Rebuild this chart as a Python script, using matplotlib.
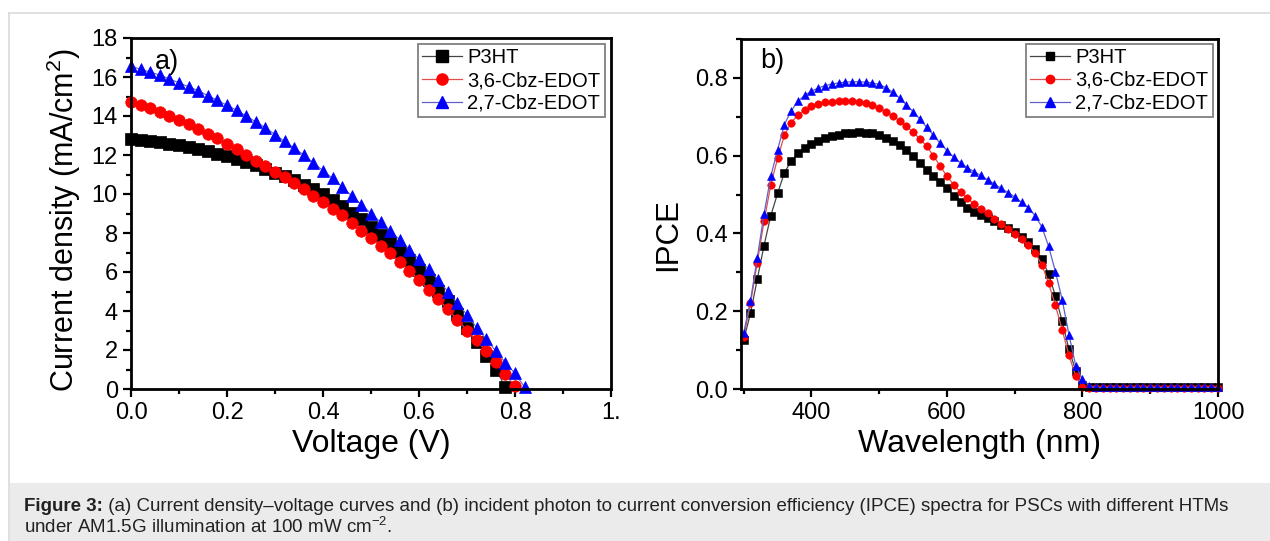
import matplotlib
matplotlib.use("Agg")
import matplotlib.pyplot as plt
from matplotlib.ticker import MultipleLocator, FixedLocator, FixedFormatter
from matplotlib.patches import Rectangle
from matplotlib.lines import Line2D

plt.rcParams['font.family'] = ['Liberation Sans', 'DejaVu Sans']
plt.rcParams['mathtext.fontset'] = 'custom'
plt.rcParams['mathtext.rm'] = 'Liberation Sans'
plt.rcParams['mathtext.it'] = 'Liberation Sans:italic'
plt.rcParams['mathtext.bf'] = 'Liberation Sans:bold'

# ---------------- data ----------------
series_names = ["P3HT", "3,6-Cbz-EDOT", "2,7-Cbz-EDOT"]

voltage = [0.00, 0.02, 0.04, 0.06, 0.08, 0.10, 0.12, 0.14, 0.16, 0.18,
           0.20, 0.22, 0.24, 0.26, 0.28, 0.30, 0.32, 0.34, 0.36, 0.38,
           0.40, 0.42, 0.44, 0.46, 0.48, 0.50, 0.52, 0.54, 0.56, 0.58,
           0.60, 0.62, 0.64, 0.66, 0.68, 0.70, 0.72, 0.74, 0.76, 0.78,
           0.80, 0.82]

j_p3ht = [12.8, 12.75, 12.7, 12.65, 12.55, 12.5, 12.4, 12.3, 12.2, 12.05,
          11.95, 11.8, 11.65, 11.5, 11.3, 11.1, 10.9, 10.7, 10.45, 10.25,
          10.0, 9.7, 9.4, 9.05, 8.7, 8.3, 7.9, 7.5, 7.05, 6.6,
          6.1, 5.6, 5.05, 4.5, 3.85, 3.15, 2.4, 1.7, 1.0, 0.1]
j_36 = [14.7, 14.55, 14.4, 14.2, 14.0, 13.8, 13.6, 13.35, 13.1, 12.85,
        12.55, 12.3, 12.0, 11.7, 11.45, 11.15, 10.85, 10.55, 10.25, 9.9,
        9.6, 9.25, 8.9, 8.5, 8.1, 7.75, 7.35, 6.95, 6.5, 6.05,
        5.6, 5.1, 4.6, 4.1, 3.55, 3.0, 2.5, 1.95, 1.4, 0.75, 0.15]
j_27 = [16.55, 16.4, 16.25, 16.1, 15.9, 15.7, 15.5, 15.3, 15.05, 14.8,
        14.55, 14.3, 14.0, 13.7, 13.4, 13.05, 12.7, 12.35, 12.0, 11.6,
        11.2, 10.8, 10.35, 9.9, 9.45, 9.0, 8.55, 8.1, 7.65, 7.15,
        6.65, 6.15, 5.6, 5.0, 4.4, 3.8, 3.15, 2.55, 1.95, 1.35, 0.8, 0.1]

wavelength = list(range(300, 1001, 10))

ipce_p3ht = [0.126, 0.195, 0.282, 0.369, 0.446, 0.503, 0.556, 0.586, 0.606, 0.620,
             0.630, 0.638, 0.645, 0.650, 0.654, 0.657, 0.659, 0.660, 0.659, 0.657,
             0.653, 0.646, 0.638, 0.627, 0.614, 0.598, 0.580, 0.563, 0.547, 0.531,
             0.516, 0.497, 0.480, 0.466, 0.455, 0.447, 0.440, 0.432, 0.423, 0.413,
             0.403, 0.392, 0.378, 0.360, 0.335, 0.295, 0.240, 0.174, 0.102, 0.047,
             0.010, 0.004, 0.004, 0.004, 0.004, 0.004, 0.004, 0.004, 0.004, 0.004,
             0.004, 0.004, 0.004, 0.004, 0.004, 0.004, 0.004, 0.004, 0.004, 0.004,
             0.004]
ipce_36 = [0.135, 0.220, 0.325, 0.431, 0.525, 0.593, 0.652, 0.685, 0.705, 0.718,
           0.727, 0.733, 0.737, 0.739, 0.740, 0.740, 0.740, 0.738, 0.735, 0.730,
           0.722, 0.713, 0.703, 0.690, 0.676, 0.660, 0.643, 0.624, 0.600, 0.573,
           0.547, 0.525, 0.506, 0.490, 0.476, 0.464, 0.452, 0.438, 0.425, 0.412,
           0.398, 0.385, 0.370, 0.350, 0.320, 0.272, 0.215, 0.152, 0.087, 0.033,
           0.006, 0.003, 0.003, 0.003, 0.003, 0.003, 0.003, 0.003, 0.003, 0.003,
           0.003, 0.003, 0.003, 0.003, 0.003, 0.003, 0.003, 0.003, 0.003, 0.003,
           0.003]
ipce_27 = [0.145, 0.227, 0.337, 0.450, 0.547, 0.615, 0.680, 0.715, 0.740, 0.755,
           0.766, 0.774, 0.780, 0.784, 0.787, 0.789, 0.790, 0.790, 0.789, 0.787,
           0.783, 0.775, 0.763, 0.748, 0.731, 0.713, 0.694, 0.673, 0.652, 0.632,
           0.613, 0.596, 0.581, 0.569, 0.559, 0.549, 0.538, 0.527, 0.516, 0.505,
           0.494, 0.480, 0.466, 0.446, 0.417, 0.367, 0.302, 0.230, 0.140, 0.060,
           0.025, 0.008, 0.004, 0.004, 0.004, 0.004, 0.004, 0.004, 0.004, 0.004,
           0.004, 0.004, 0.004, 0.004, 0.004, 0.004, 0.004, 0.004, 0.004, 0.004,
           0.004]

xticks_a = [0.0, 0.2, 0.4, 0.6, 0.8, 1.0]
xticklabels_a = ["0.0", "0.2", "0.4", "0.6", "0.8", "1."]
yticks_a = [0, 2, 4, 6, 8, 10, 12, 14, 16, 18]
xticks_b = [400, 600, 800, 1000]
yticks_b = [0.0, 0.2, 0.4, 0.6, 0.8]
yticklabels_b = ["0.0", "0.2", "0.4", "0.6", "0.8"]
caption_bold = "Figure 3:"
caption_rest = (" (a) Current density\u2013voltage curves and (b) incident photon to current "
                "conversion efficiency (IPCE) spectra for PSCs with different HTMs")
caption_line2 = "under AM1.5G illumination at 100 mW cm$^{\u22122}$."

# ---------------- style ----------------
W, H = 1270, 541
fig = plt.figure(figsize=(W / 100, H / 100), dpi=100)
fig.patch.set_facecolor("white")

# outer light border and caption box
fig.add_artist(Line2D([9 / W, 1], [1 - 13 / H, 1 - 13 / H], transform=fig.transFigure,
                      color="#dadada", lw=1.2))
fig.add_artist(Line2D([9 / W, 9 / W], [0, 1 - 13 / H], transform=fig.transFigure,
                      color="#dadada", lw=1.2))
fig.add_artist(Rectangle((10 / W, 0), 1 - 10 / W, (H - 483) / H, transform=fig.transFigure,
                         facecolor="#ebebeb", edgecolor="none"))

colors = ["#000000", "#ff0000", "#0000ff"]
line_colors = ["#444444", "#e05050", "#6060c8"]
markers = ["s", "o", "^"]


def px_axes(l, t, r, b):
    return fig.add_axes([l / W, 1 - b / H, (r - l) / W, (b - t) / H])


def style_axes(ax):
    for s in ax.spines.values():
        s.set_linewidth(2.0)
    ax.tick_params(axis="both", which="both", direction="out", top=False, right=False,
                   labelsize=17, width=1.6, colors="black")
    ax.tick_params(which="major", length=5.5, pad=4)
    ax.tick_params(which="minor", length=3.5)


def add_legend(ax, handles, anchor):
    leg = ax.legend(handles=handles, loc="upper right", bbox_to_anchor=anchor,
                    borderaxespad=0, fontsize=14.5, frameon=True, fancybox=False,
                    framealpha=1, edgecolor="#808080", handlelength=2.0,
                    handletextpad=0.25, labelspacing=0.18, borderpad=0.22)
    leg.get_frame().set_linewidth(1.3)
    return leg


# ---------------- panel a ----------------
axa = px_axes(131, 38, 611, 389)
vsets = [voltage[:len(j_p3ht)], voltage[:len(j_36)], voltage[:len(j_27)]]
jsets = [j_p3ht, j_36, j_27]
for v, j, c, lc, m in zip(vsets, jsets, colors, line_colors, markers):
    axa.plot(v, j, color=lc, lw=0.8, marker=m, markersize=8.3 if m != "^" else 8.8,
             markerfacecolor=c, markeredgecolor=c, markeredgewidth=0.5, clip_on=False)
axa.set_xlim(0, 1.0)
axa.set_ylim(0, 18)
axa.xaxis.set_major_locator(FixedLocator(xticks_a))
axa.xaxis.set_major_formatter(FixedFormatter(xticklabels_a))
axa.xaxis.set_minor_locator(MultipleLocator(0.1))
axa.yaxis.set_major_locator(FixedLocator(yticks_a))
axa.yaxis.set_minor_locator(MultipleLocator(1))
style_axes(axa)
axa.set_xlabel("Voltage (V)", fontsize=23)
axa.set_ylabel("Current density (mA/cm$^2$)", fontsize=22)
axa.xaxis.set_label_coords(0.5, -0.115)
axa.yaxis.set_label_coords(-0.10, 0.48)
axa.text(0.05, 0.932, "a)", transform=axa.transAxes, fontsize=19.5, va="center", ha="left")
handles_a = [Line2D([], [], color=lc, lw=0.9, marker=m, markersize=8 if m != "^" else 8.5,
                    markerfacecolor=c, markeredgecolor=c, label=n)
             for n, c, lc, m in zip(series_names, colors, line_colors, markers)]
add_legend(axa, handles_a, (0.9875, 0.983))

# ---------------- panel b ----------------
axb = px_axes(741, 39, 1218, 389)
for y, c, lc, m in zip([ipce_p3ht, ipce_36, ipce_27], colors, line_colors, markers):
    axb.plot(wavelength, y, color=lc, lw=0.9, marker=m, markersize=5.4 if m != "^" else 6.0,
             markerfacecolor=c, markeredgecolor=c, markeredgewidth=0.4, clip_on=False)
axb.set_xlim(296, 1000)
axb.set_ylim(0, 0.9)
axb.xaxis.set_major_locator(FixedLocator(xticks_b))
axb.xaxis.set_minor_locator(MultipleLocator(100))
axb.yaxis.set_major_locator(FixedLocator(yticks_b))
axb.yaxis.set_major_formatter(FixedFormatter(yticklabels_b))
axb.yaxis.set_minor_locator(MultipleLocator(0.1))
style_axes(axb)
axb.set_xlabel("Wavelength (nm)", fontsize=23)
axb.set_ylabel("IPCE", fontsize=22.5)
axb.xaxis.set_label_coords(0.5, -0.115)
axb.yaxis.set_label_coords(-0.122, 0.44)
axb.text(0.04, 0.937, "b)", transform=axb.transAxes, fontsize=19.5, va="center", ha="left")
handles_b = [Line2D([], [], color=lc, lw=0.9, marker=m, markersize=6 if m != "^" else 6.5,
                    markerfacecolor=c, markeredgecolor=c, label=n)
             for n, c, lc, m in zip(series_names, colors, line_colors, markers)]
add_legend(axb, handles_b, (0.9895, 0.986))

# ---------------- caption ----------------
cap_fs = 13.5
t1 = fig.text(24 / W, 1 - 511 / H, caption_bold, fontsize=cap_fs, fontweight="bold",
              va="baseline", ha="left", color="#222222")
fig.canvas.draw()
bb = t1.get_window_extent(renderer=fig.canvas.get_renderer())
fig.text(bb.x1 / W, 1 - 511 / H, caption_rest, fontsize=cap_fs, va="baseline", ha="left",
         color="#222222")
fig.text(24 / W, 1 - 533 / H, caption_line2, fontsize=cap_fs, va="baseline", ha="left",
         color="#222222")

fig.savefig("out.png", dpi=100, facecolor="white")
